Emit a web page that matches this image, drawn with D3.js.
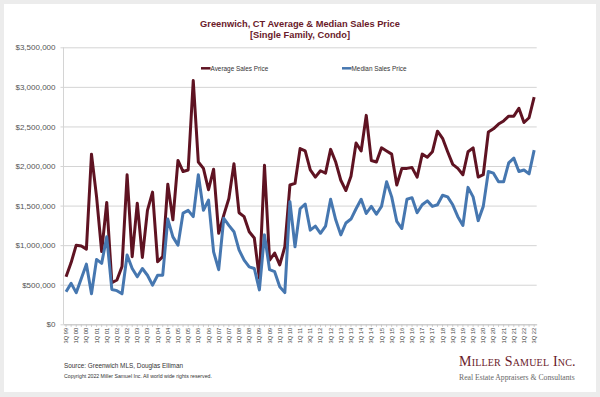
<!DOCTYPE html>
<html>
<head>
	<title>Greenwich Sales Price</title>
	<meta charset="utf-8">
	<script src="https://d3js.org/d3.v7.min.js"></script>
	<style>
		body { margin: 0; background: #ececec; }
		svg { display: block; font-family: "Liberation Sans", Arial, sans-serif; }
	</style>
</head>
<body>
	<div id="chartDiv"></div>
	<script>

		// quarters, 3Q 99 .. 3Q 22
		const quarters = [
			'3Q 99','4Q 99',
			'1Q 00','2Q 00','3Q 00','4Q 00','1Q 01','2Q 01','3Q 01','4Q 01',
			'1Q 02','2Q 02','3Q 02','4Q 02','1Q 03','2Q 03','3Q 03','4Q 03',
			'1Q 04','2Q 04','3Q 04','4Q 04','1Q 05','2Q 05','3Q 05','4Q 05',
			'1Q 06','2Q 06','3Q 06','4Q 06','1Q 07','2Q 07','3Q 07','4Q 07',
			'1Q 08','2Q 08','3Q 08','4Q 08','1Q 09','2Q 09','3Q 09','4Q 09',
			'1Q 10','2Q 10','3Q 10','4Q 10','1Q 11','2Q 11','3Q 11','4Q 11',
			'1Q 12','2Q 12','3Q 12','4Q 12','1Q 13','2Q 13','3Q 13','4Q 13',
			'1Q 14','2Q 14','3Q 14','4Q 14','1Q 15','2Q 15','3Q 15','4Q 15',
			'1Q 16','2Q 16','3Q 16','4Q 16','1Q 17','2Q 17','3Q 17','4Q 17',
			'1Q 18','2Q 18','3Q 18','4Q 18','1Q 19','2Q 19','3Q 19','4Q 19',
			'1Q 20','2Q 20','3Q 20','4Q 20','1Q 21','2Q 21','3Q 21','4Q 21',
			'1Q 22','2Q 22','3Q 22'
		];

		// average sales price, $ thousands
		const averagePrice = [
			600, 780,
			1000, 990, 950, 2150, 1610, 920, 1540, 525,
			560, 730, 1890, 855, 1530, 845, 1440, 1670,
			790, 855, 1770, 1320, 2070, 1930, 1950, 3080,
			2050, 1970, 1700, 1960, 1150, 1380, 1590, 2030,
			1410, 1360, 1170, 1090, 580, 2010, 810, 900,
			750, 980, 1760, 1780, 2220, 2190, 1950, 1860,
			1940, 1910, 2210, 2050, 1820, 1690, 1870, 2290,
			2190, 2640, 2070, 2050, 2230, 2190, 2150, 1760,
			1970, 1970, 1980, 1860, 2150, 2110, 2180, 2440,
			2350, 2180, 2020, 1970, 1890, 2180, 2230, 1860,
			1890, 2430, 2470, 2530, 2570, 2630, 2630, 2730,
			2550, 2610, 2870
		];

		// median sales price, $ thousands
		const medianPrice = [
			412, 517,
			400, 580, 760, 385, 820, 770, 1105, 440,
			425, 385, 875, 705, 600, 705, 620, 495,
			620, 620, 1330, 1105, 1000, 1405, 1440, 1360,
			1890, 1440, 1570, 915, 690, 1340, 1250, 1170,
			940, 810, 725, 705, 435, 1130, 690, 665,
			475, 400, 1550, 980, 1460, 1520, 1190, 1240,
			1150, 1240, 1580, 1320, 1130, 1280, 1330, 1460,
			1580, 1400, 1490, 1390, 1490, 1800, 1610, 1300,
			1210, 1580, 1600, 1410, 1510, 1560, 1490, 1510,
			1630, 1610, 1510, 1360, 1250, 1730, 1610, 1310,
			1490, 1930, 1910, 1800, 1800, 2040, 2100, 1930,
			1950, 1900, 2200
		];

		const yTicks = [0, 500, 1000, 1500, 2000, 2500, 3000, 3500];
		const xTickLabels = quarters.filter((q, i) => i % 2 === 0);

		const seriesNames = ['Average Sales Price', 'Median Sales Price'];
		const seriesColors = ['#5f1322', '#4677b0'];

		const width = 600, height = 397;
		const plot = { left: 63.5, right: 536.7, top: 47.3, bottom: 324.3 };

		const svg = d3.select('#chartDiv').append('svg')
			.attr('width', width)
			.attr('height', height);

		//white card
		svg.append('rect')
			.attr('x', 4).attr('y', 4)
			.attr('width', 592).attr('height', 388)
			.attr('fill', '#fff');

		//scales
		const xScale = d3.scaleBand()
			.domain(quarters)
			.range([plot.left, plot.right]);
		const xMid = q => xScale(q) + xScale.bandwidth() / 2;

		const yScale = d3.scaleLinear()
			.domain([0, 3500])
			.range([plot.bottom, plot.top]);

		//gridlines + y labels
		const yAxis = d3.axisLeft(yScale)
			.tickValues(yTicks)
			.tickSize(-(plot.right - plot.left + 3))
			.tickPadding(5)
			.tickFormat(d => '$' + d3.format(',')(d * 1000));

		const yAxisG = svg.append('g')
			.attr('transform', `translate(${plot.left - 3},0)`)
			.call(yAxis);
		yAxisG.select('.domain').remove();
		yAxisG.selectAll('.tick line').attr('stroke', '#d4d4d4').attr('stroke-width', 1);
		yAxisG.selectAll('.tick text')
			.attr('fill', '#555')
			.style('font-size', '8px');

		//y axis line
		svg.append('line')
			.attr('x1', plot.left).attr('x2', plot.left)
			.attr('y1', plot.top).attr('y2', plot.bottom)
			.attr('stroke', '#d4d4d4');

		//x axis
		const xAxis = d3.axisBottom(xScale)
			.tickSize(2.5)
			.tickSizeOuter(0)
			.tickPadding(2)
			.tickFormat(q => xTickLabels.includes(q) ? q : '');

		const xAxisG = svg.append('g')
			.attr('transform', `translate(0,${plot.bottom})`)
			.call(xAxis);
		xAxisG.select('.domain').attr('stroke', '#c8c8c8');
		xAxisG.selectAll('.tick line').attr('stroke', '#c8c8c8');
		xAxisG.selectAll('.tick text')
			.attr('transform', 'rotate(-90)')
			.attr('text-anchor', 'end')
			.attr('x', -3.5)
			.attr('y', 0)
			.attr('dy', '0.35em')
			.attr('fill', '#444')
			.style('font-size', '5.8px');

		//lines
		const line = d3.line()
			.x((d, i) => xMid(quarters[i]))
			.y(d => yScale(d));

		[averagePrice, medianPrice].forEach((values, k) => {
			svg.append('path')
				.datum(values)
				.attr('fill', 'none')
				.attr('stroke', seriesColors[k])
				.attr('stroke-width', 3)
				.attr('stroke-linejoin', 'round')
				.attr('d', line);
		});

		//legend
		const legendX = [201, 342];
		seriesNames.forEach((name, k) => {
			const g = svg.append('g').attr('transform', `translate(${legendX[k]},68.3)`);
			g.append('line')
				.attr('x1', 0).attr('x2', 9.5)
				.attr('stroke', seriesColors[k])
				.attr('stroke-width', 2.5);
			g.append('text')
				.attr('x', 9.5).attr('y', 0)
				.attr('dy', '0.35em')
				.attr('fill', '#333')
				.style('font-size', '6.4px')
				.text(name);
		});

		//title
		const title = svg.append('text')
			.attr('text-anchor', 'middle')
			.attr('fill', '#6a1a2a')
			.style('font-weight', 'bold')
			.style('font-size', '9.3px');
		title.append('tspan').attr('x', 300).attr('y', 26.8).text('Greenwich, CT Average & Median Sales Price');
		title.append('tspan').attr('x', 300).attr('y', 38).text('[Single Family, Condo]');

		//source
		svg.append('text')
			.attr('x', 64).attr('y', 367.5)
			.attr('fill', '#333')
			.style('font-size', '6.4px')
			.text('Source: Greenwich MLS, Douglas Elliman');
		svg.append('text')
			.attr('x', 64).attr('y', 377.5)
			.attr('fill', '#333')
			.style('font-size', '5.2px')
			.text('Copyright 2022 Miller Samuel Inc.  All world wide rights reserved.');

		//logo
		svg.append('text')
			.attr('x', 459).attr('y', 366)
			.attr('fill', '#6a1a2a')
			.style('font-family', '"Liberation Serif", "DejaVu Serif", serif')
			.style('font-size', '14px')
			.style('font-variant', 'small-caps')
			.style('letter-spacing', '0.2px')
			.text('Miller Samuel Inc.');
		svg.append('text')
			.attr('x', 459).attr('y', 379.5)
			.attr('fill', '#666')
			.style('font-family', '"Liberation Serif", "DejaVu Serif", serif')
			.style('font-size', '7.7px')
			.text('Real Estate Appraisers & Consultants');

	</script>
</body>
</html>
